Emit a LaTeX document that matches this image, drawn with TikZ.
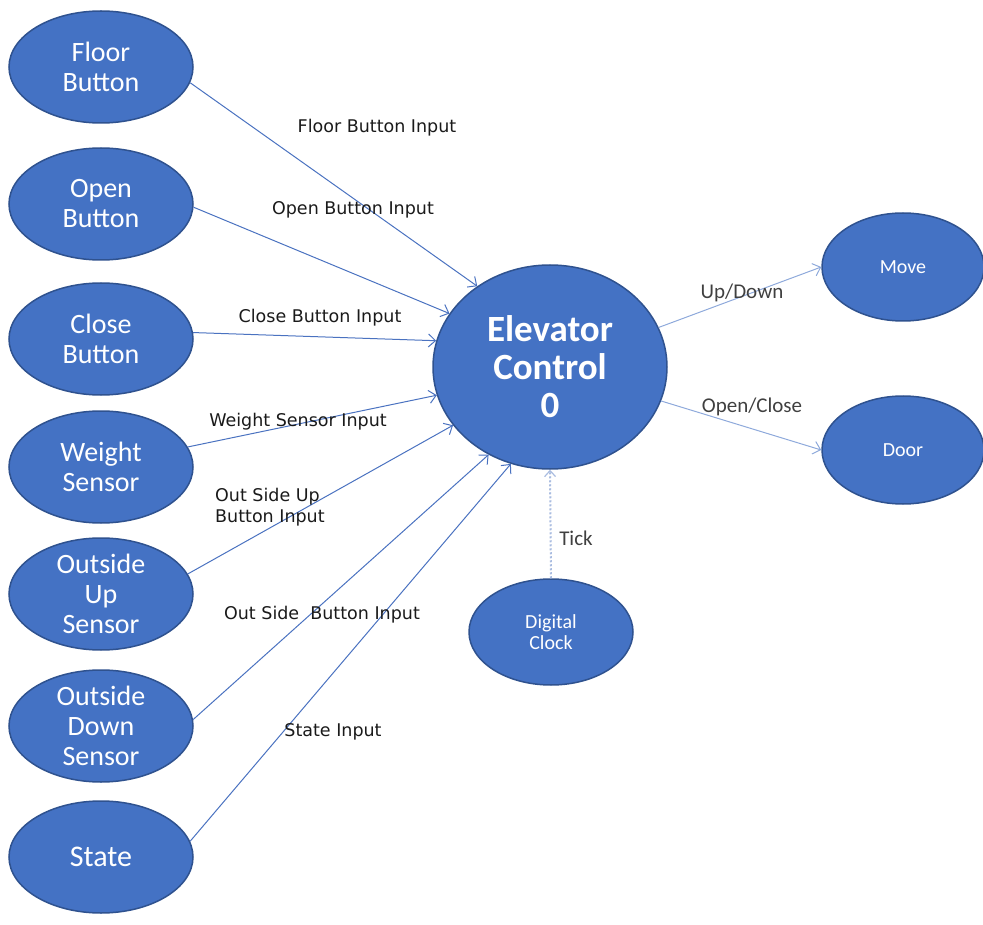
\documentclass[tikz,border=0pt]{standalone}
\usepackage{fontspec}
\setmainfont{Carlito}
\newfontfamily\lblfont{DejaVu Sans}
\usetikzlibrary{shapes.geometric,arrows.meta}

\definecolor{nodeblue}{HTML}{4472C4}
\definecolor{nodeedge}{HTML}{2F528F}
\definecolor{flowblue}{HTML}{4A72C0}
\definecolor{outblue}{HTML}{8EA9DB}
\definecolor{tickblue}{HTML}{A9BCE0}
\definecolor{lbltext}{HTML}{1A1A1A}
\definecolor{lblgrey}{HTML}{404040}

\tikzset{
  ent/.style={ellipse, fill=nodeblue, draw=nodeedge, line width=1.5pt,
    text=white, align=center, inner sep=-8pt,
    minimum width=184pt, minimum height=112pt,
    font=\fontsize{28}{30}\selectfont},
  sink/.style={ellipse, fill=nodeblue, draw=nodeedge, line width=1.5pt,
    text=white, align=center, inner sep=0pt,
    minimum width=162pt, minimum height=108pt,
    font=\fontsize{20}{21}\selectfont},
  hub/.style={ellipse, fill=nodeblue, draw=nodeedge, line width=1.5pt,
    text=white, align=center, inner sep=0pt,
    minimum width=234pt, minimum height=204pt,
    font=\bfseries\fontsize{37}{38}\selectfont},
  flow/.style={draw=flowblue, line width=1pt,
    -{Straight Barb[length=7pt,width=13pt,line width=1pt]}},
  outflow/.style={draw=outblue, line width=1pt,
    -{Straight Barb[length=7pt,width=13pt,line width=1pt]}},
  tickflow/.style={draw=tickblue, line width=2pt, dotted,
    -{Straight Barb[length=6pt,width=11pt,line width=1.2pt]}},
  inlbl/.style={text=lbltext, inner sep=0pt,
    font=\lblfont\fontsize{17.5}{21}\selectfont},
  outlbl/.style={text=lblgrey, inner sep=0pt,
    font=\fontsize{21}{22}\selectfont}
}

\begin{document}
\begin{tikzpicture}[x=1pt,y=-1pt]
\useasboundingbox (0,0) rectangle (983,925);

% input entities down the left side
\node[ent] (fb) at (101,67)  {Floor\\Button};
\node[ent] (ob) at (101,204) {Open\\Button};
\node[ent] (cb) at (101,339) {Close\\Button};
\node[ent] (ws) at (101,467) {Weight\\Sensor};
\node[ent] (ou) at (101,594) {Outside\\Up\\Sensor};
\node[ent] (od) at (101,726) {Outside\\Down\\Sensor};
\node[ent, font=\fontsize{30}{32}\selectfont] (st) at (101,857) {State};

% central process
\node[hub] (ec) at (550,367) {Elevator\\Control\\0};

% outputs and clock
\node[sink] (mv) at (903,267) {Move};
\node[sink] (dr) at (903,450) {Door};
\node[sink, minimum width=164pt, minimum height=106pt] (dc) at (551,632) {Digital\\Clock};

% input flows
\draw[flow] (fb.-10) -- (ec.132);
\draw[flow] (ob.-2)  -- (ec.152);
\draw[flow] (cb.4)   -- (ec.167);
\draw[flow] (ws.13)  -- (ec.194);
\draw[flow] (ou.13)  -- (ec.211);
\draw[flow] (od.4)   -- (ec.235);
\draw[flow] (st.10)  -- (ec.248);

% output flows
\draw[outflow] (ec.20)  -- (mv.180);
\draw[outflow] (ec.-17) -- (dr.180);
\draw[tickflow] (dc.north) -- (ec.270);

% flow labels
\node[inlbl] (lfb) at (377,128) {Floor Button Input};
\node[inlbl] (lob) at (353,210) {Open Button Input};
\node[inlbl] (lcb) at (320,318) {Close Button Input};
\node[inlbl] (lws) at (298,422) {Weight Sensor Input};
\node[inlbl, align=left, anchor=west] (lou) at (215,507) {Out Side Up\\Button Input};
\node[inlbl] (lod) at (322,615) {Out Side\ \ Button Input};
\node[inlbl] (lst) at (333,732) {State Input};
\node[outlbl] (lmv) at (742,293) {Up/Down};
\node[outlbl] (ldr) at (752,407) {Open/Close};
\node[outlbl] (ltk) at (576,538) {Tick};
\end{tikzpicture}
\end{document}
